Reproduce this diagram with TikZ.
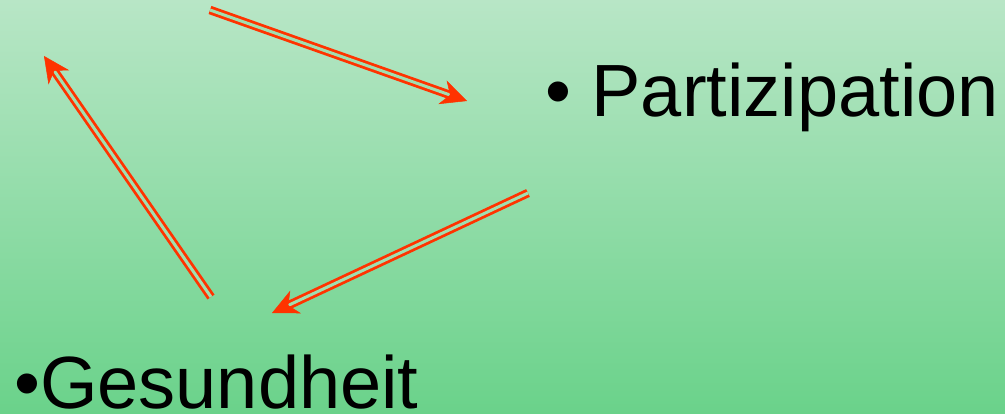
\documentclass[tikz,border=0pt]{standalone}
\usepackage{fontspec}
\setmainfont{Liberation Sans}
\usetikzlibrary{arrows.meta,calc}
\definecolor{bgtop}{RGB}{184,230,198}
\definecolor{bgbot}{RGB}{106,210,138}
\definecolor{arr}{RGB}{255,51,0}
\definecolor{gapc}{RGB}{160,223,176}
\tikzset{
  label/.style={anchor=base west, inner sep=0pt, font=\fontsize{74}{80}\selectfont, text=black},
  dbl/.style={draw=arr, line width=2.8pt, double=gapc, double distance=3pt, shorten >=16pt},
  tipline/.style={draw=arr, line width=0.5pt, -{Stealth[length=26pt,width=25pt,inset=8pt]}}
}
\begin{document}
\begin{tikzpicture}[x=1pt,y=-1pt]
\shade[top color=bgtop, bottom color=bgbot] (0,0) rectangle (1005,414);
\useasboundingbox (0,0) rectangle (1005,414);
\node[label] (part) at (545,117) {• Partizipation};
\node[label] (ges) at (14,408) {•Gesundheit};
\coordinate (a1s) at (210,10);
\coordinate (a1e) at (467,101);
\coordinate (a2s) at (211,297);
\coordinate (a2e) at (44,56);
\coordinate (a3s) at (528,193);
\coordinate (a3e) at (272,313);
\draw[dbl] (a1s) -- (a1e);
\draw[dbl] (a2s) -- (a2e);
\draw[dbl] (a3s) -- (a3e);
\draw[tipline] ($(a1e)!2pt!(a1s)$) -- (a1e);
\draw[tipline] ($(a2e)!2pt!(a2s)$) -- (a2e);
\draw[tipline] ($(a3e)!2pt!(a3s)$) -- (a3e);
\end{tikzpicture}
\end{document}
